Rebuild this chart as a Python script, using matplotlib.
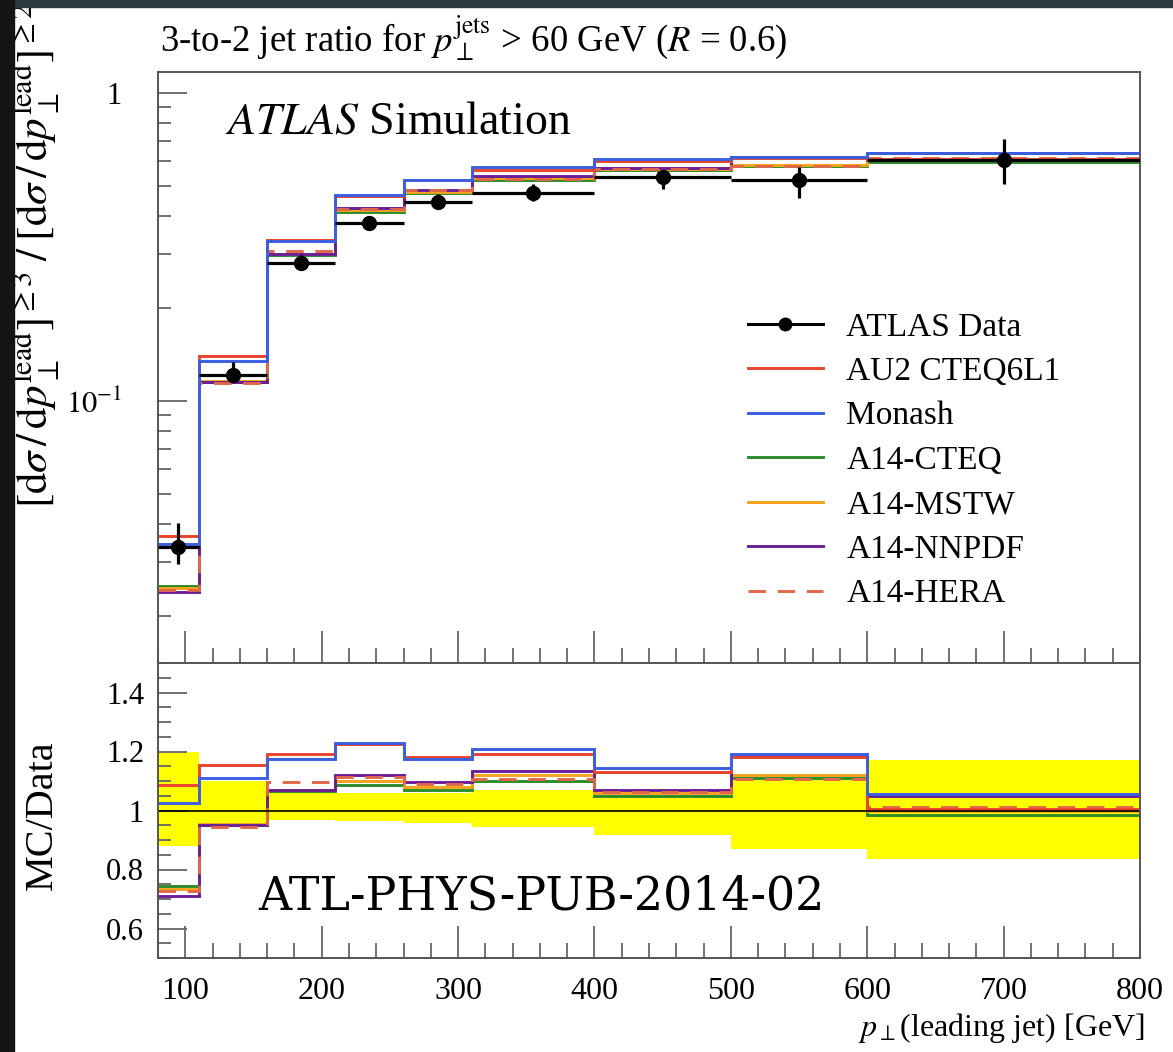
import numpy as np
import matplotlib
matplotlib.use("Agg")
import matplotlib.pyplot as plt
from matplotlib.ticker import FixedLocator, FixedFormatter, MultipleLocator, NullFormatter, LogLocator
from matplotlib.lines import Line2D
from matplotlib.patches import Rectangle

plt.rcParams["font.family"] = ["Liberation Serif", "DejaVu Serif"]
plt.rcParams["mathtext.fontset"] = "stix"

# Leading-jet pT binning [GeV]
edges = [80, 110, 160, 210, 260, 310, 400, 500, 600, 800]
centers = [95, 135, 185, 235, 285, 355, 450, 550, 700]

# ATLAS data: 3-to-2 jet ratio with asymmetric uncertainties
data = [0.0336, 0.1214, 0.2806, 0.378, 0.443, 0.4736, 0.5337, 0.522, 0.606]
data_err_up = [0.0067, 0.0121, 0.018, 0.0219, 0.0257, 0.0327, 0.0251, 0.0538, 0.103]
data_err_dn = [0.0040, 0.0061, 0.0093, 0.0132, 0.0195, 0.026, 0.0448, 0.0673, 0.0988]

# Pythia 8 tune predictions
au2 = [0.0365, 0.1402, 0.3339, 0.4631, 0.5227, 0.5636, 0.6031, 0.6160, 0.6090]
monash = [0.0344, 0.1348, 0.3297, 0.4649, 0.5205, 0.5731, 0.6111, 0.6212, 0.6393]
a14_cteq = [0.0250, 0.1153, 0.2988, 0.4101, 0.4740, 0.5210, 0.5604, 0.5794, 0.5969]
a14_mstw = [0.0247, 0.1159, 0.3002, 0.4158, 0.4784, 0.5304, 0.5657, 0.5846, 0.6060]
a14_nnpdf = [0.0239, 0.1153, 0.3002, 0.4234, 0.4851, 0.5375, 0.5711, 0.6186, 0.6363]
a14_hera = [0.0244, 0.1147, 0.3073, 0.4215, 0.4829, 0.5247, 0.5673, 0.5784, 0.6133]

series = [
    ("A14-CTEQ", a14_cteq, "#2c8c2c", "-"),
    ("A14-MSTW", a14_mstw, "#f2a31b", "-"),
    ("A14-NNPDF", a14_nnpdf, "#6a1f96", "-"),
    ("A14-HERA", a14_hera, "#e0674a", (0, (6, 4))),
    ("AU2 CTEQ6L1", au2, "#e8452c", "-"),
    ("Monash", monash, "#3a5fe0", "-"),
]
legend_order = ["AU2 CTEQ6L1", "Monash", "A14-CTEQ", "A14-MSTW", "A14-NNPDF", "A14-HERA"]

W, H = 1173, 1052
fig = plt.figure(figsize=(W / 100, H / 100), dpi=100)
fig.patch.set_facecolor("white")

ax1 = fig.add_axes([158 / W, 1 - 663 / H, (1140 - 158) / W, (663 - 72) / H])
ax2 = fig.add_axes([158 / W, 1 - 958 / H, (1140 - 158) / W, (958 - 663) / H])

edges_a = np.array(edges, dtype=float)
data_a = np.array(data)
up_a = np.array(data_err_up)
dn_a = np.array(data_err_dn)

frame_col = "#555555"
tick_col = "#666666"
for ax in (ax1, ax2):
    for sp in ax.spines.values():
        sp.set_color(frame_col)
        sp.set_linewidth(1.4)
    ax.set_xlim(80, 800)
    ax.xaxis.set_major_locator(MultipleLocator(100))
    ax.xaxis.set_minor_locator(MultipleLocator(20))
    ax.tick_params(which="both", direction="in", top=False, right=False,
                   color=tick_col, width=1.3)
    ax.tick_params(axis="x", which="major", length=23)
    ax.tick_params(axis="x", which="minor", length=11)
    ax.tick_params(axis="y", which="major", length=21)
    ax.tick_params(axis="y", which="minor", length=9)

# --- main panel ---
ax1.set_yscale("log")
ax1.set_ylim(0.0141, 1.17)
for name, vals, col, ls in series:
    ax1.stairs(vals, edges_a, baseline=None, color=col, linestyle=ls, linewidth=2.1)
xerr = np.diff(edges_a) / 2
ax1.errorbar(centers, data_a, yerr=[dn_a, up_a], xerr=xerr, fmt="o", color="black",
             markersize=10, elinewidth=2.3, capsize=0, zorder=5)
ax1.yaxis.set_major_locator(FixedLocator([0.1, 1.0]))
ax1.yaxis.set_major_formatter(FixedFormatter([r"$10^{-1}$", "1"]))
ax1.yaxis.set_minor_locator(LogLocator(base=10, subs=np.arange(2, 10)))
ax1.yaxis.set_minor_formatter(NullFormatter())
ax1.tick_params(axis="y", which="major", labelsize=22, pad=26)
ax1.tick_params(axis="x", labelbottom=False)

handles = [Line2D([], [], color="black", marker="o", markersize=9, linewidth=2.2)]
labels = ["ATLAS Data"]
lookup = {s[0]: s for s in series}
for name in legend_order:
    _, _, col, ls = lookup[name]
    handles.append(Line2D([], [], color=col, linestyle=ls, linewidth=2.1))
    labels.append(name)
ax1.legend(handles, labels, loc="upper left", bbox_to_anchor=(748 / W, 1 - 312 / H),
           bbox_transform=fig.transFigure, frameon=False, fontsize=24, numpoints=1,
           handlelength=2.25, handletextpad=0.7, labelspacing=0.42,
           borderpad=0, borderaxespad=0)

# --- ratio panel ---
band_hi = (data_a + up_a) / data_a
band_lo = (data_a - dn_a) / data_a
ax2.stairs(band_hi, edges_a, baseline=band_lo, fill=True, color="#ffff00", linewidth=0)
ax2.axhline(1.0, color="black", linewidth=1.2)
for name, vals, col, ls in series:
    ax2.stairs(np.array(vals) / data_a, edges_a, baseline=None, color=col,
               linestyle=ls, linewidth=2.1)
ax2.set_ylim(0.5, 1.5)
ax2.yaxis.set_major_locator(FixedLocator([0.6, 0.8, 1.0, 1.2, 1.4]))
ax2.yaxis.set_major_formatter(FixedFormatter(["0.6", "0.8", "1", "1.2", "1.4"]))
ax2.yaxis.set_minor_locator(MultipleLocator(0.05))
ax2.tick_params(axis="y", which="major", labelsize=22, pad=10)
ax2.tick_params(axis="x", which="major", labelsize=23, pad=14)

# --- texts ---
fig.text(160 / W, 1 - 52 / H,
         r"3-to-2 jet ratio for $p_\perp^{\mathrm{jets}}$ > 60 GeV ($R$ = 0.6)",
         fontsize=26.5, ha="left", va="baseline")
fig.text(225 / W, 1 - 133 / H, r"$\mathit{ATLAS}$ Simulation", fontsize=33,
         ha="left", va="baseline")
fig.text(36 / W, 1 - 2 / H,
         r"$[\mathrm{d}\sigma\,/\,\mathrm{d}p_\perp^{\mathrm{lead}}]^{\geq 3}\;/\;[\mathrm{d}\sigma\,/\,\mathrm{d}p_\perp^{\mathrm{lead}}]^{\geq 2}$",
         rotation=90, fontsize=31, ha="center", va="top")
fig.text(42 / W, 1 - 815 / H, "MC/Data", rotation=90, fontsize=29,
         ha="center", va="center")
fig.text(1145 / W, 1 - 1036 / H, r"$p_\perp$(leading jet) [GeV]", fontsize=23,
         ha="right", va="baseline")
fig.text(258 / W, 1 - 909 / H, "ATL-PHYS-PUB-2014-02", fontsize=33,
         family="DejaVu Serif", ha="left", va="baseline")

# dark surround along the top and left edges
fig.patches.append(Rectangle((0, 1 - 7 / H), 1, 7 / H, transform=fig.transFigure,
                             color="#2e3a3d", zorder=10))
fig.patches.append(Rectangle((0, 0), 14 / W, 1, transform=fig.transFigure,
                             color="#141414", zorder=10))

fig.savefig("out.png", dpi=100)
